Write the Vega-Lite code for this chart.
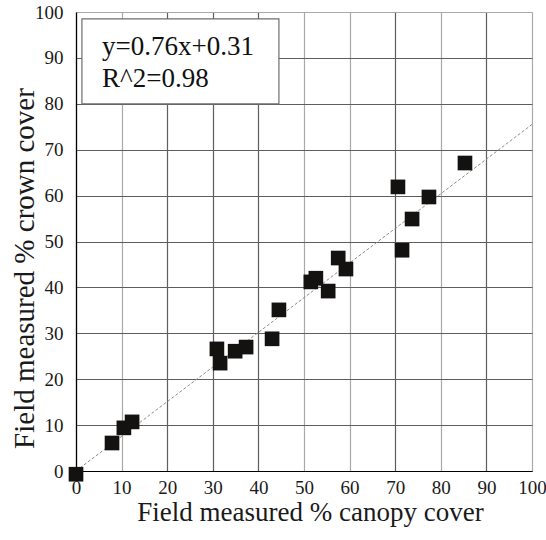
{
  "$schema": "https://vega.github.io/schema/vega-lite/v6.json",
  "width": 456,
  "height": 459,
  "autosize": {"type": "none"},
  "padding": {"left": 76, "top": 12, "right": 14, "bottom": 69},
  "background": "white",
  "config": {
    "view": {"stroke": null},
    "font": "Times New Roman, Liberation Serif, Times, serif",
    "axis": {
      "labelFont": "Times New Roman, Liberation Serif, Times, serif",
      "titleFont": "Times New Roman, Liberation Serif, Times, serif",
      "labelColor": "#1a1a1a",
      "titleColor": "#1a1a1a",
      "titleFontWeight": "normal",
      "ticks": false,
      "domainColor": "#000000",
      "domainWidth": 1.2
    }
  },
  "datasets": {
    "points": [
      {"canopy": 0, "crown": -0.7},
      {"canopy": 7.9, "crown": 6.1},
      {"canopy": 10.5, "crown": 9.4},
      {"canopy": 12.3, "crown": 10.7},
      {"canopy": 30.9, "crown": 26.6},
      {"canopy": 31.6, "crown": 23.5},
      {"canopy": 34.9, "crown": 26.1},
      {"canopy": 37.3, "crown": 27.0},
      {"canopy": 43.0, "crown": 28.8},
      {"canopy": 44.5, "crown": 35.1},
      {"canopy": 51.5, "crown": 41.2},
      {"canopy": 52.6, "crown": 42.0},
      {"canopy": 55.3, "crown": 39.2},
      {"canopy": 57.5, "crown": 46.4},
      {"canopy": 59.2, "crown": 44.0},
      {"canopy": 70.6, "crown": 61.9},
      {"canopy": 71.5, "crown": 48.1},
      {"canopy": 73.7, "crown": 54.9},
      {"canopy": 77.4, "crown": 59.7},
      {"canopy": 85.3, "crown": 67.1}
    ],
    "fit": [
      {"canopy": 0, "crown": 0},
      {"canopy": 100, "crown": 75.5}
    ],
    "box": [
      {"x1": 1.3, "x2": 44.5, "y1": 80.0, "y2": 98.5}
    ],
    "label": [
      {"x": 5.7, "y": 90.6, "text": "y=0.76x+0.31"},
      {"x": 5.7, "y": 83.7, "text": "R^2=0.98"}
    ]
  },
  "layer": [
    {
      "data": {"name": "points"},
      "mark": {"type": "point", "opacity": 0},
      "encoding": {
        "x": {
          "field": "canopy", "type": "quantitative",
          "scale": {"domain": [0, 100], "nice": false},
          "axis": {
            "values": [0, 10, 20, 30, 40, 50, 60, 70, 80, 90, 100],
            "title": "Field measured % canopy cover",
            "titleFontSize": 27,
            "titleX": 234,
            "titleY": 49,
            "titleBaseline": "alphabetic",
            "titleAlign": "center",
            "labelFontSize": 19,
            "labelPadding": 7,
            "labelFlush": false,
            "grid": true,
            "gridColor": {"condition": {"test": "datum.value == 10 || datum.value == 50 || datum.value == 60 || datum.value == 80 || datum.value == 100", "value": "#a9a9a9"}, "value": "#5e5e5e"},
            "gridWidth": 1.2
          }
        },
        "y": {
          "field": "crown", "type": "quantitative",
          "scale": {"domain": [0, 100], "nice": false},
          "axis": {
            "values": [0, 10, 20, 30, 40, 50, 60, 70, 80, 90, 100],
            "title": "Field measured % crown cover",
            "titleFontSize": 29,
            "titleAngle": -90,
            "titleX": -43,
            "titleY": 256,
            "titleBaseline": "alphabetic",
            "titleAlign": "center",
            "labelFontSize": 19,
            "labelPadding": 13,
            "labelFlush": false,
            "grid": true,
            "gridColor": {"condition": {"test": "datum.value == 100", "value": "#a9a9a9"}, "value": "#5e5e5e"},
            "gridWidth": 1.2
          }
        }
      }
    },
    {
      "data": {"name": "box"},
      "mark": {"type": "rect", "fill": "white", "stroke": "#6e6e6e", "strokeWidth": 1.2},
      "encoding": {
        "x": {"field": "x1", "type": "quantitative"},
        "x2": {"field": "x2"},
        "y": {"field": "y1", "type": "quantitative"},
        "y2": {"field": "y2"}
      }
    },
    {
      "data": {"name": "fit"},
      "mark": {"type": "line", "color": "#8c8c8c", "strokeWidth": 1, "strokeDash": [3, 2]},
      "encoding": {
        "x": {"field": "canopy", "type": "quantitative"},
        "y": {"field": "crown", "type": "quantitative"}
      }
    },
    {
      "data": {"name": "points"},
      "mark": {"type": "point", "shape": "square", "filled": true, "size": 215, "color": "#141210", "opacity": 1, "clip": false},
      "encoding": {
        "x": {"field": "canopy", "type": "quantitative"},
        "y": {"field": "crown", "type": "quantitative"}
      }
    },
    {
      "data": {"name": "label"},
      "mark": {"type": "text", "align": "left", "baseline": "alphabetic", "font": "Times New Roman, Liberation Serif, Times, serif", "fontSize": 27, "color": "#111111"},
      "encoding": {
        "x": {"field": "x", "type": "quantitative"},
        "y": {"field": "y", "type": "quantitative"},
        "text": {"field": "text"}
      }
    }
  ]
}
